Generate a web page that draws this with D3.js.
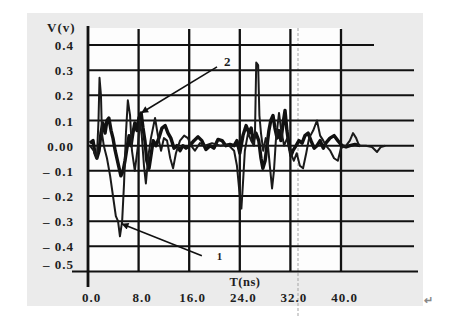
<!DOCTYPE html>
<html><head><meta charset="utf-8">
<script src="https://cdn.jsdelivr.net/npm/d3@7"></script>
<style>
body{margin:0;background:#fff;}
svg text{font-family:"Liberation Serif","Times New Roman",serif;fill:#1e1e1e;font-weight:bold;}
</style></head>
<body><svg id="c" width="450" height="320"></svg>
<script>
// ---- data ----
const xTicks = [0, 8, 16, 24, 32, 40];
const xTickLabels = ["0.0", "8.0", "16.0", "24.0", "32.0", "40.0"];
const yTicks = [0.4, 0.3, 0.2, 0.1, 0, -0.1, -0.2, -0.3, -0.4, -0.5];
const yTickLabels = ["0.4", "0.3", "0.2", "0.1", "0.00", "– 0.1", "– 0.2", "– 0.3", "– 0.4", "– 0.5"];
const xTitle = "T(ns)";
const yTitle = "V(v)";

// trace 1 (thin line, sharp spikes)
const t1 = [0.3,0.9,1.4,1.66,1.82,2.05,2.2,2.5,3.0,3.5,3.95,4.4,4.75,5.05,5.4,5.7,6.0,6.3,6.65,6.95,7.4,7.9,8.2,8.5,8.85,9.15,9.5,9.95,10.6,11.05,11.55,12.0,12.5,13.0,13.45,13.9,14.55,15.2,15.8,16.3,16.9,17.7,18.5,19.6,20.9,22.1,23.1,23.55,24.0,24.25,24.5,24.8,25.3,25.8,26.25,26.4,26.6,26.9,27.1,27.35,27.7,28.1,28.45,28.75,29.1,29.4,29.7,30.2,30.5,31.0,31.5,31.9,32.55,33.0,33.5,34.0,34.5,34.95,35.6,36.2,36.7,37.2,37.6,38.3,38.9,39.5,40.0,40.8,41.4,41.9,42.4,42.85,43.95,44.9,45.7,46.3,47.0];
const v1 = [0,-0.02,-0.05,0.1,0.27,0.2,0.05,0,-0.05,-0.12,-0.2,-0.28,-0.3,-0.36,-0.3,-0.15,0.05,0.18,0.12,-0.02,-0.1,0,0.1,0.04,-0.08,-0.15,-0.05,0.03,0.11,0.04,-0.02,0.03,0.02,-0.05,-0.09,-0.03,0.02,0.04,0.03,0,-0.02,0.01,0,0.01,0,0.005,-0.02,-0.08,-0.2,-0.25,-0.15,-0.02,0.05,0.02,0,0.05,0.33,0.32,0.12,0.05,-0.02,0.03,0,-0.08,-0.17,-0.1,0.02,0.13,0.07,0,0.03,-0.02,-0.06,-0.03,-0.08,-0.09,-0.03,0.03,0.06,0.1,0.04,0.02,0,-0.02,-0.05,-0.06,-0.01,0,0.02,0.05,0.03,0,0,-0.005,-0.025,-0.005,0];

// trace 2 (thick line)
const t2 = [0.3,0.8,1.1,1.4,1.75,2.05,2.35,2.7,3.0,3.3,3.65,3.95,4.3,4.75,5.2,5.55,5.85,6.15,6.5,6.8,7.1,7.4,7.75,8.05,8.4,8.7,9.0,9.3,9.65,9.95,10.3,10.75,11.2,11.7,12.2,12.65,13.1,13.6,14.05,14.55,15.0,15.5,16.1,16.75,17.4,18.0,18.65,19.3,19.9,20.55,21.2,21.8,22.45,23.1,23.55,24.0,24.5,25.0,25.45,25.8,26.1,26.55,27.0,27.35,27.65,28.0,28.3,28.6,28.9,29.25,29.55,29.9,30.2,30.5,30.85,31.15,31.45,31.8,32.1,32.4,32.9,33.35,33.85,34.3,34.8,35.25,35.75,36.2,36.7,37.2,37.6,38.25,38.9,39.5,40.15,40.8,41.4,42.2,43.0];
const v2 = [0.01,0.02,-0.03,-0.05,-0.02,0.05,0.09,0.05,0.1,0.11,0.06,0.03,-0.02,-0.07,-0.12,-0.1,-0.06,-0.01,0.04,0,0.05,0.09,0.06,0.11,0.13,0.07,0.02,-0.06,-0.09,-0.04,0.02,0,0.03,0.07,0.08,0.05,0.03,-0.01,0,-0.02,0,-0.01,0,0.02,0.035,0.02,-0.015,0,-0.01,0.025,0.02,0,0.005,0,0.02,-0.03,0.04,0.08,0.05,0.07,0.02,0.05,0.02,-0.05,-0.09,-0.06,0,0.06,0.1,0.12,0.07,0.03,0.06,0.02,0.09,0.14,0.06,0,-0.04,-0.02,0,0.02,0.01,0.04,0.05,0.02,-0.01,0,0.02,-0.01,0.01,0.03,0.04,0.02,0,-0.005,0,0.005,0];

// annotations: label, arrow tail (t,v), arrow tip (t,v), label position (t,v)
const annLabels = ["2", "1"];
const annTail = [[20.4, 0.313], [18.0, -0.437]];
const annTip = [[8.4, 0.13], [5.3, -0.31]];
const annText = [[22.0, 0.335], [20.8, -0.439]];

// ---- drawing ----
const svg = d3.select("#c");
const x = d3.scaleLinear().domain([0, 40]).range([88, 341]);
const y = d3.scaleLinear().domain([-0.5, 0.4]).range([271.5, 45]);

svg.append("rect").attr("x", 27).attr("y", 13).attr("width", 396).attr("height", 293).attr("fill", "#ebebeb");
svg.append("rect").attr("x", x(0)).attr("y", 28).attr("width", x(40) - x(0)).attr("height", y(-0.5) - 28).attr("fill", "#fdfdfd");

const ink = "#111";
// faint scan line
svg.append("line").attr("x1", 298).attr("x2", 298).attr("y1", 28).attr("y2", 318)
  .attr("stroke", "#a5a5a5").attr("stroke-width", 1).attr("stroke-dasharray", "3,2");

// horizontal gridlines
const g = svg.append("g");
g.selectAll("line.h").data(yTicks.filter(d => d > -0.5)).join("line")
  .attr("x1", x(0)).attr("x2", d => d === 0.4 ? 374 : 414)
  .attr("y1", d => y(d)).attr("y2", d => y(d))
  .attr("stroke", ink).attr("stroke-width", 2);
// bottom line
g.append("line").attr("x1", 72).attr("x2", 418).attr("y1", y(-0.5)).attr("y2", y(-0.5))
  .attr("stroke", ink).attr("stroke-width", 2.2);
// vertical gridlines
g.selectAll("line.v").data(xTicks.filter(d => d > 0)).join("line")
  .attr("x1", d => x(d)).attr("x2", d => x(d)).attr("y1", 29).attr("y2", y(-0.5))
  .attr("stroke", ink).attr("stroke-width", 2.3);
// y axis line
g.append("line").attr("x1", x(0)).attr("x2", x(0)).attr("y1", 26).attr("y2", 287)
  .attr("stroke", ink).attr("stroke-width", 2.8);

// tick labels via axes
const yAxis = d3.axisLeft(y).tickValues(yTicks).tickSize(0).tickPadding(14)
  .tickFormat((d, i) => yTickLabels[i]);
const ya = svg.append("g").attr("transform", `translate(${x(0)},0)`).call(yAxis);
ya.select(".domain").remove();
ya.selectAll("text").attr("font-size", 13).attr("letter-spacing", 1)
  .attr("font-family", "Liberation Serif").attr("font-weight", "bold").attr("fill", "#1e1e1e")
  .attr("dy", (d) => d === -0.5 ? "-0.2em" : "0.35em");

const xAxis = d3.axisBottom(x).tickValues(xTicks).tickSize(0).tickPadding(21)
  .tickFormat((d, i) => xTickLabels[i]);
const xa = svg.append("g").attr("transform", `translate(3,${y(-0.5)})`).call(xAxis);
xa.select(".domain").remove();
xa.selectAll("text").attr("font-size", 13).attr("letter-spacing", 1)
  .attr("font-family", "Liberation Serif").attr("font-weight", "bold").attr("fill", "#1e1e1e");

svg.append("text").attr("x", 47).attr("y", 32).attr("font-size", 13).attr("letter-spacing", 1).text(yTitle);
svg.append("text").attr("x", 245).attr("y", 286).attr("text-anchor", "middle").attr("font-size", 12.5).attr("letter-spacing", 0.5).text(xTitle);

// traces
const line = d3.line().x(d => x(d[0])).y(d => y(d[1])).curve(d3.curveLinear);
svg.append("path").datum(t2.map((t, i) => [t, v2[i]])).attr("d", line)
  .attr("fill", "none").attr("stroke", ink).attr("stroke-width", 3.4).attr("stroke-linejoin", "round");
svg.append("path").datum(t1.map((t, i) => [t, v1[i]])).attr("d", line)
  .attr("fill", "none").attr("stroke", "#1a1a1a").attr("stroke-width", 2).attr("stroke-linejoin", "round");

// arrows
svg.append("defs").append("marker").attr("id", "ah").attr("viewBox", "0 0 10 10")
  .attr("refX", 10).attr("refY", 5).attr("markerWidth", 9).attr("markerHeight", 7)
  .attr("markerUnits", "userSpaceOnUse").attr("orient", "auto")
  .append("path").attr("d", "M0,0 L10,5 L0,10 Z").attr("fill", ink);
annLabels.forEach((lab, i) => {
  svg.append("line")
    .attr("x1", x(annTail[i][0])).attr("y1", y(annTail[i][1]))
    .attr("x2", x(annTip[i][0])).attr("y2", y(annTip[i][1]))
    .attr("stroke", ink).attr("stroke-width", 1.6).attr("marker-end", "url(#ah)");
  svg.append("text").attr("x", x(annText[i][0])).attr("y", y(annText[i][1]))
    .attr("dy", "0.35em").attr("text-anchor", "middle")
    .attr("font-size", i === 0 ? 13 : 11).attr("font-weight", i === 0 ? "bold" : "normal").text(lab);
});

svg.append("text").attr("x", 428).attr("y", 304).attr("text-anchor", "middle")
  .attr("font-size", 11).attr("font-weight", "normal").style("fill", "#888").text("↵");
</script></body></html>
